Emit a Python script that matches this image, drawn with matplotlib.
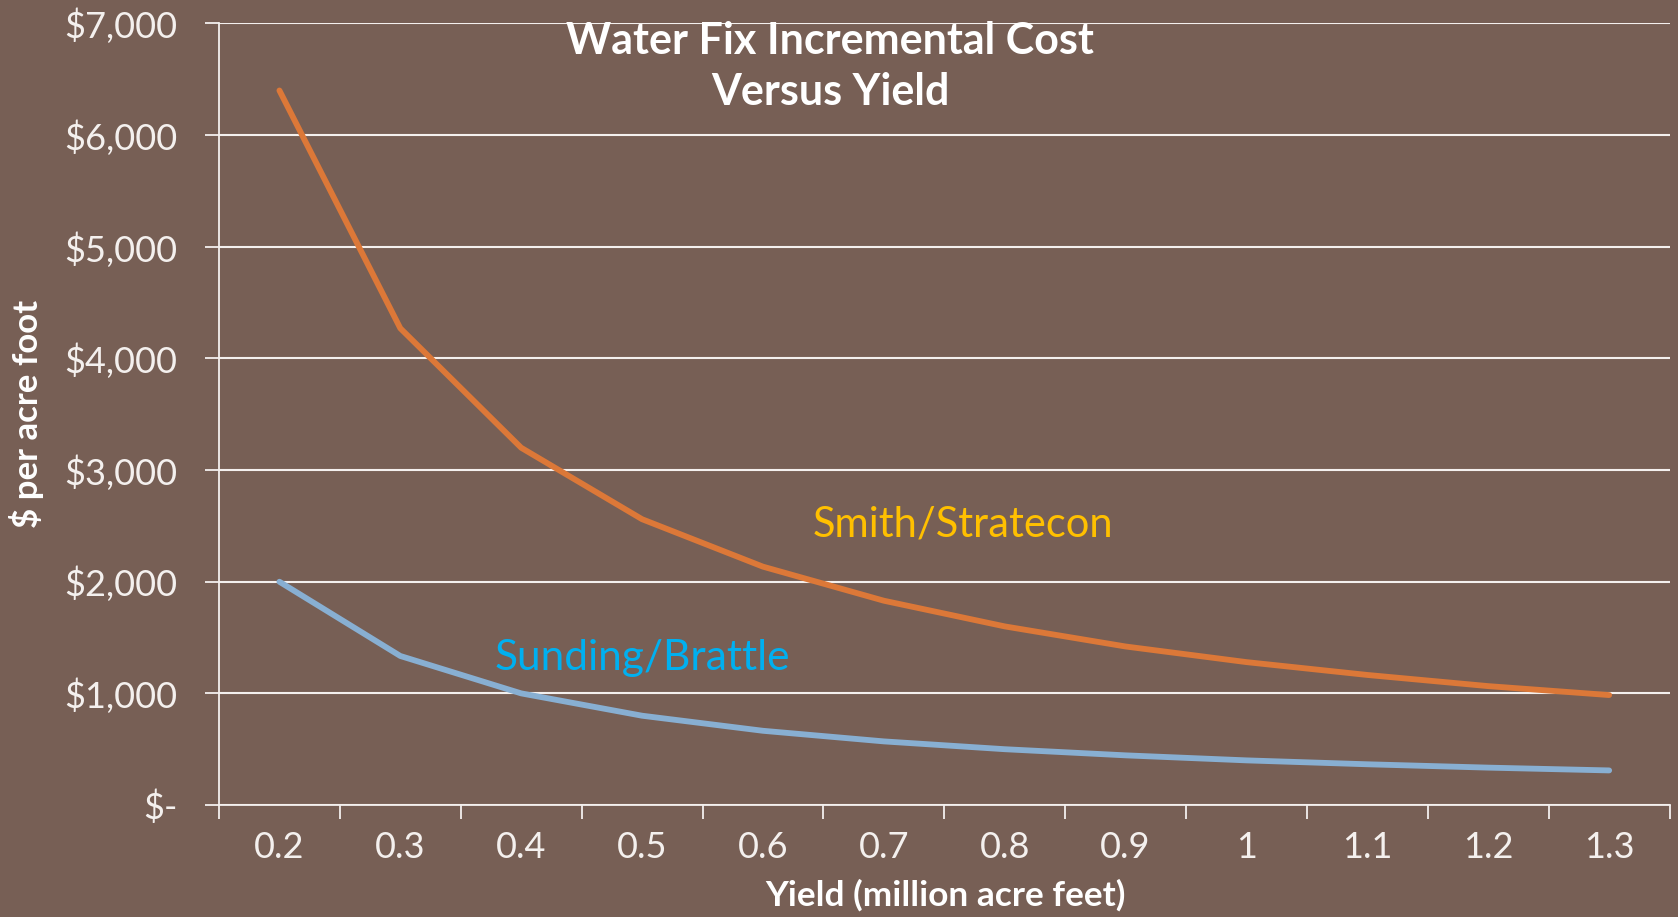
import matplotlib
matplotlib.use("Agg")
import matplotlib.pyplot as plt
import numpy as np

yield_labels = ["0.2", "0.3", "0.4", "0.5", "0.6", "0.7", "0.8", "0.9", "1", "1.1", "1.2", "1.3"]
smith_stratecon = [6400, 4270, 3200, 2560, 2135, 1830, 1600, 1420, 1280, 1165, 1065, 985]
sunding_brattle = [2000, 1335, 1000, 800, 665, 570, 500, 445, 400, 365, 335, 310]
y_ticks = [0, 1000, 2000, 3000, 4000, 5000, 6000, 7000]
y_tick_labels = ["$-", "$1,000", "$2,000", "$3,000", "$4,000", "$5,000", "$6,000", "$7,000"]
title_lines = ["Water Fix Incremental Cost", "Versus Yield"]

BG = "#775F55"
FG = "#F4F0EE"
plt.rcParams['font.family'] = ['Lato', 'DejaVu Sans']

fig = plt.figure(figsize=(16.78, 9.17), dpi=100, facecolor=BG)
ax = fig.add_axes([0.1305, 0.1221, 0.995 - 0.1305, 0.9744 - 0.1221])
ax.set_facecolor(BG)

x = np.arange(len(yield_labels))
ax.plot(x, smith_stratecon, color="#DC7838", lw=4.2, solid_capstyle="round", solid_joinstyle="round", zorder=3)
ax.plot(x, sunding_brattle, color="#88AFD2", lw=4.2, solid_capstyle="round", solid_joinstyle="round", zorder=3)

ax.set_xlim(-0.5, len(yield_labels) - 0.5)
ax.set_ylim(0, 7000)
ax.set_yticks(y_ticks)
ax.set_yticklabels(y_tick_labels)
ax.set_xticks(x)
ax.set_xticklabels(yield_labels)
ax.set_xticks(np.arange(-0.5, len(yield_labels)), minor=True)
ax.tick_params(axis='x', which='major', length=0, pad=19, labelsize=26, labelcolor=FG)
ax.tick_params(axis='x', which='minor', length=10, width=1.3, color=FG, direction='out')
ax.tick_params(axis='y', which='major', length=10, width=1.3, color=FG, pad=20, labelsize=26, labelcolor=FG)

ax.grid(axis='y', color=FG, lw=1.5, zorder=1)
for s in ['top', 'right']:
    ax.spines[s].set_visible(False)
for s in ['left', 'bottom']:
    ax.spines[s].set_color(FG)
    ax.spines[s].set_linewidth(1.3)

ax.text(4.41, 2512, "Smith/Stratecon", color="#FFC000", fontsize=30, ha='left', va='center', zorder=4)
ax.text(1.78, 1313, "Sunding/Brattle", color="#00B0F0", fontsize=30.5, ha='left', va='center', zorder=4)

fig.text(830 / 1678, 1 - 40.5 / 917, title_lines[0], color="white",
         fontsize=31, fontweight='bold', ha='center', va='center')
fig.text(830 / 1678, 1 - 92 / 917, title_lines[1], color="white",
         fontsize=31, fontweight='bold', ha='center', va='center')
fig.text(27 / 1678, 1 - 414 / 917, "$ per acre foot", color="white", fontsize=25, fontweight='bold',
         rotation=90, ha='center', va='center')
fig.text(945 / 1678, 1 - 895 / 917, "Yield (million acre feet)", color="white", fontsize=25.4,
         fontweight='bold', ha='center', va='center')

fig.savefig("out.png", dpi=100, facecolor=BG)
